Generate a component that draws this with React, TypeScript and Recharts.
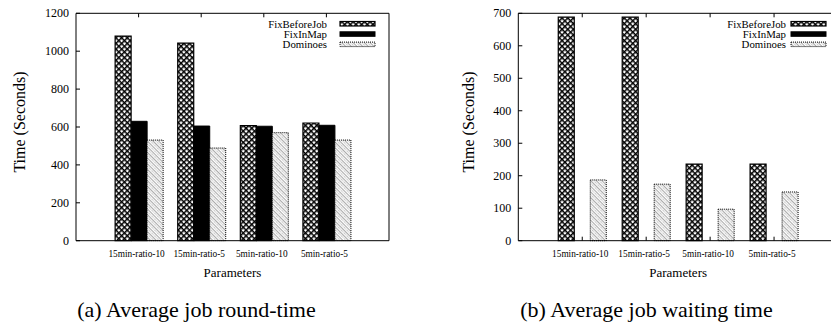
import React from 'react';
import { BarChart, Bar, XAxis, YAxis, Legend } from 'recharts';

const categories = ['15min-ratio-10', '15min-ratio-5', '5min-ratio-10', '5min-ratio-5'];
const seriesNames = ['FixBeforeJob', 'FixInMap', 'Dominoes'];

const roundFixBeforeJob = [1080, 1043, 607, 621];
const roundFixInMap = [630, 605, 604, 609];
const roundDominoes = [531, 489, 570, 531];
const roundTicks = [0, 200, 400, 600, 800, 1000, 1200];

const waitFixBeforeJob = [688, 688, 236, 236];
const waitFixInMap = [0, 0, 0, 0];
const waitDominoes = [187, 174, 97, 150];
const waitTicks = [0, 100, 200, 300, 400, 500, 600, 700];

const FONT = '"Liberation Serif", "Times New Roman", Times, serif';

const buildRows = (a: number[], b: number[], c: number[]) =>
  categories.map((cat, i) => ({ cat, fbj: a[i], fim: b[i], dom: c[i] }));

const roundRows = buildRows(roundFixBeforeJob, roundFixInMap, roundDominoes);
const waitRows = buildRows(waitFixBeforeJob, waitFixInMap, waitDominoes);

const Patterns = ({ id }: { id: string }) => (
  <defs>
    <pattern id={`hatch-${id}`} width={4} height={4} patternUnits="userSpaceOnUse" patternTransform="rotate(45)">
      <rect width={4} height={4} fill="#fff" />
      <rect width={1.5} height={4} fill="#000" />
      <rect width={4} height={1.5} fill="#000" />
    </pattern>
    <pattern id={`dots-${id}`} width={4} height={4} patternUnits="userSpaceOnUse" patternTransform="rotate(-45)">
      <rect width={4} height={4} fill="#fff" />
      <rect width={0.9} height={4} fill="#a0a0a0" />
      <rect x={2.4} y={0.5} width={0.8} height={0.8} fill="#444" />
      <rect x={2.4} y={2.5} width={0.8} height={0.8} fill="#888" />
    </pattern>
  </defs>
);

const seriesStyle = (id: string) => [
  { key: 'fbj', fill: `url(#hatch-${id})`, stroke: '#000', dash: undefined as string | undefined, sw: 1.2 },
  { key: 'fim', fill: '#000', stroke: '#000', dash: undefined as string | undefined, sw: 1 },
  { key: 'dom', fill: `url(#dots-${id})`, stroke: '#000', dash: '1 1' as string | undefined, sw: 1 },
];

const txt = (size: number) => ({ fontFamily: FONT, fontSize: `${size}px` });

const LeftYTick = (props: any) => {
  const { x, y, payload } = props;
  return (
    <g>
      <line x1={x} y1={y} x2={x + 4} y2={y} stroke="#000" />
      <text x={x - 7} y={y + 4} textAnchor="end" style={txt(12)} fill="#000">
        {payload.value}
      </text>
    </g>
  );
};

const RightYTick = (props: any) => {
  const { x, y } = props;
  return <line x1={x - 4} y1={y} x2={x} y2={y} stroke="#000" />;
};

const TopXTick = (props: any) => {
  const { x, y } = props;
  return <line x1={x} y1={y} x2={x} y2={y + 4} stroke="#000" />;
};

const BottomXTick = (props: any) => {
  const { x, y, payload } = props;
  return (
    <g>
      <line x1={x} y1={y} x2={x} y2={y - 4} stroke="#000" />
      <text x={x - 2} y={y + 16} textAnchor="middle" style={txt(9.3)} fill="#000">
        {payload.value}
      </text>
    </g>
  );
};

type PanelProps = {
  id: string;
  data: any[];
  ticks: number[];
  left: number;
  width: number;
  yAxisWidth: number;
  rightAxisWidth: number;
  yLabelOffset: number;
  legendLeft: number;
  textEnd: number;
  boxX: number;
};

const Panel = (p: PanelProps) => {
  const styles = seriesStyle(p.id);
  const plotW = p.width - p.yAxisWidth - p.rightAxisWidth;
  const pad = plotW / 10;
  const band = plotW / 5;
  const gap = band * 0.125;
  const max = p.ticks[p.ticks.length - 1];
  return (
    <div style={{ position: 'absolute', left: p.left, top: 0 }}>
      <BarChart
        width={p.width}
        height={324}
        data={p.data}
        margin={{ top: 8.3, right: 0, bottom: 43.3, left: 0 }}
        barGap={0}
        barCategoryGap={gap}
      >
        <Patterns id={p.id} />
        <XAxis
          xAxisId="bottom"
          dataKey="cat"
          orientation="bottom"
          height={40}
          padding={{ left: pad, right: pad }}
          interval={0}
          tickSize={0}
          tickMargin={0}
          tickLine={false}
          axisLine={{ stroke: '#000' }}
          tick={<BottomXTick />}
          label={(lp: any) => {
            const vb = lp.viewBox;
            return (
              <text x={vb.x + vb.width / 2} y={vb.y + 36} textAnchor="middle" style={txt(13)} fill="#000">
                Parameters
              </text>
            );
          }}
        />
        <XAxis
          xAxisId="top"
          dataKey="cat"
          orientation="top"
          height={5}
          padding={{ left: pad, right: pad }}
          interval={0}
          tickSize={0}
          tickMargin={0}
          tickLine={false}
          axisLine={{ stroke: '#000' }}
          tick={<TopXTick />}
        />
        <YAxis
          yAxisId="left"
          orientation="left"
          width={p.yAxisWidth}
          domain={[0, max]}
          ticks={p.ticks}
          interval={0}
          tickSize={0}
          tickMargin={0}
          tickLine={false}
          axisLine={{ stroke: '#000' }}
          tick={<LeftYTick />}
          label={(lp: any) => {
            const vb = lp.viewBox;
            const cx = vb.x + vb.width - p.yLabelOffset;
            const cy = vb.y + vb.height / 2 - 5;
            return (
              <text
                x={cx}
                y={cy}
                transform={`rotate(-90 ${cx} ${cy})`}
                textAnchor="middle"
                dominantBaseline="central"
                style={txt(16)}
                fill="#000"
              >
                Time (Seconds)
              </text>
            );
          }}
        />
        <YAxis
          yAxisId="right"
          orientation="right"
          width={p.rightAxisWidth}
          domain={[0, max]}
          ticks={p.ticks}
          interval={0}
          tickSize={0}
          tickMargin={0}
          tickLine={false}
          axisLine={{ stroke: '#000' }}
          tick={<RightYTick />}
        />
        <Legend
          layout="vertical"
          align="center"
          verticalAlign="middle"
          wrapperStyle={{ left: p.legendLeft, top: 15, width: 150, height: 40 }}
          content={(lp: any) => {
            const items = [...(lp.payload || [])].sort(
              (a: any, b: any) => seriesNames.indexOf(a.value) - seriesNames.indexOf(b.value)
            );
            return (
              <svg width={150} height={40} style={{ display: 'block' }}>
                {items.map((e: any, i: number) => {
                  const base = 12.5 + i * 10.3;
                  const st = styles[seriesNames.indexOf(e.value)] || styles[i];
                  return (
                    <g key={e.value}>
                      <text x={p.textEnd} y={base} textAnchor="end" style={txt(10.8)} fill="#000">
                        {e.value}
                      </text>
                      <rect
                        x={p.boxX}
                        y={base - 6}
                        width={35}
                        height={4.5}
                        fill={st.fill}
                        stroke={st.stroke}
                        strokeWidth={st.sw}
                        strokeDasharray={st.dash}
                      />
                    </g>
                  );
                })}
              </svg>
            );
          }}
        />
        {styles.map((s, i) => (
          <Bar
            key={s.key}
            dataKey={s.key}
            name={seriesNames[i]}
            xAxisId="bottom"
            yAxisId="left"
            fill={s.fill}
            stroke={s.stroke}
            strokeWidth={s.sw}
            strokeDasharray={s.dash}
            isAnimationActive={false}
          />
        ))}
      </BarChart>
    </div>
  );
};

export default function App() {
  return (
    <div
      style={{
        position: 'absolute',
        left: 0,
        top: 0,
        width: 831,
        height: 324,
        overflow: 'hidden',
        background: '#fff',
      }}
    >
      <Panel
        id="a"
        data={roundRows}
        ticks={roundTicks}
        left={0}
        width={415}
        yAxisWidth={76}
        rightAxisWidth={26}
        yLabelOffset={57}
        legendLeft={240}
        textEnd={87}
        boxX={100}
      />
      <Panel
        id="b"
        data={waitRows}
        ticks={waitTicks}
        left={415}
        width={433}
        yAxisWidth={103.3}
        rightAxisWidth={10}
        yLabelOffset={50}
        legendLeft={290}
        textEnd={81}
        boxX={86}
      />
      <svg width={831} height={324} style={{ position: 'absolute', left: 0, top: 0, pointerEvents: 'none' }}>
        <text x={196.5} y={317} textAnchor="middle" style={txt(22)} fill="#000">
          (a) Average job round-time
        </text>
        <text x={646.5} y={317} textAnchor="middle" style={txt(22)} fill="#000">
          (b) Average job waiting time
        </text>
      </svg>
    </div>
  );
}
